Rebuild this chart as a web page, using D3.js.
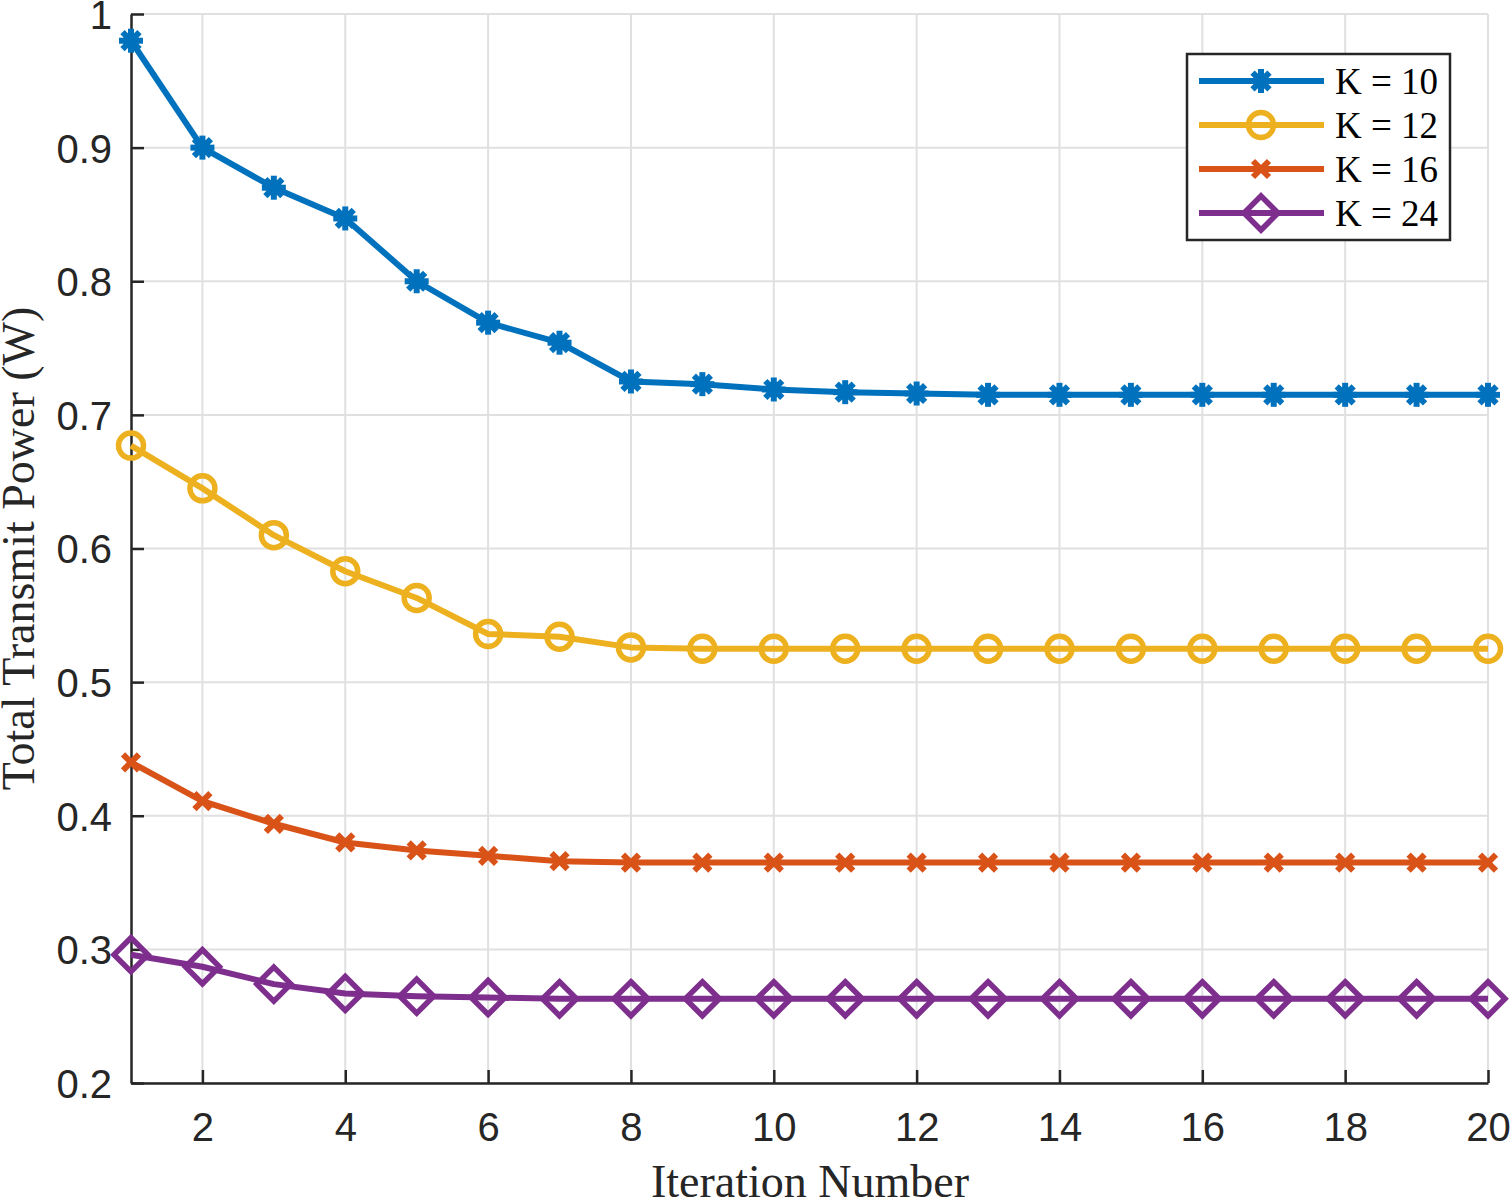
<!DOCTYPE html>
<html>
<head>
<meta charset="utf-8">
<script src="https://cdn.jsdelivr.net/npm/d3@7"></script>
<style>
  html, body { margin: 0; padding: 0; background: #fff; }
  svg { display: block; }
</style>
</head>
<body>
<div id="chart"></div>
<script>
// data
const iterations = d3.range(1, 21);
const k10 = [0.98, 0.9, 0.87, 0.847, 0.8, 0.769, 0.754, 0.725, 0.723, 0.719, 0.717, 0.716, 0.715, 0.715, 0.715, 0.715, 0.715, 0.715, 0.715, 0.715];
const k12 = [0.677, 0.645, 0.61, 0.583, 0.563, 0.536, 0.534, 0.526, 0.525, 0.525, 0.525, 0.525, 0.525, 0.525, 0.525, 0.525, 0.525, 0.525, 0.525, 0.525];
const k16 = [0.44, 0.411, 0.394, 0.38, 0.374, 0.37, 0.366, 0.365, 0.365, 0.365, 0.365, 0.365, 0.365, 0.365, 0.365, 0.365, 0.365, 0.365, 0.365, 0.365];
const k24 = [0.296, 0.287, 0.274, 0.267, 0.265, 0.264, 0.263, 0.263, 0.263, 0.263, 0.263, 0.263, 0.263, 0.263, 0.263, 0.263, 0.263, 0.263, 0.263, 0.263];
const seriesNames = ["K = 10", "K = 12", "K = 16", "K = 24"];
const xTicks = [2, 4, 6, 8, 10, 12, 14, 16, 18, 20];
const yTicks = [0.2, 0.3, 0.4, 0.5, 0.6, 0.7, 0.8, 0.9, 1];

const series = [
  { name: seriesNames[0], values: k10, color: "#0072BD", marker: "star" },
  { name: seriesNames[1], values: k12, color: "#EDB120", marker: "circle" },
  { name: seriesNames[2], values: k16, color: "#D95319", marker: "cross" },
  { name: seriesNames[3], values: k24, color: "#7E2F8E", marker: "diamond" },
];

const width = 1510, height = 1201;
const plotLeft = 131, plotRight = 1488, plotTop = 14, plotBottom = 1083;

const svg = d3.select("#chart").append("svg")
  .attr("width", width)
  .attr("height", height);

const x = d3.scaleLinear().domain([1, 20]).range([plotLeft, plotRight]);
const y = d3.scaleLinear().domain([0.2, 1]).range([plotBottom, plotTop]);

// grid
const grid = svg.append("g").attr("stroke", "#e0e0e0").attr("stroke-width", 2);
grid.selectAll(".gx").data(xTicks).enter().append("line")
  .attr("x1", d => x(d)).attr("x2", d => x(d))
  .attr("y1", plotTop).attr("y2", plotBottom);
grid.selectAll(".gy").data(yTicks).enter().append("line")
  .attr("x1", plotLeft).attr("x2", plotRight)
  .attr("y1", d => y(d)).attr("y2", d => y(d));

// axes
const xAxis = d3.axisBottom(x).tickValues(xTicks).tickSizeInner(-13).tickSizeOuter(0).tickPadding(30);
const yAxis = d3.axisLeft(y).tickValues(yTicks).tickSizeInner(-13).tickSizeOuter(0).tickPadding(19)
  .tickFormat(d => d === 1 ? "1" : d3.format(".1f")(d));

const gx = svg.append("g").attr("transform", `translate(0,${plotBottom})`).call(xAxis);
const gy = svg.append("g").attr("transform", `translate(${plotLeft},0)`).call(yAxis);

[gx, gy].forEach(g => {
  g.select(".domain").attr("stroke", "#262626").attr("stroke-width", 2.5);
  g.selectAll(".tick line").attr("stroke", "#262626").attr("stroke-width", 2.5);
  g.selectAll(".tick text")
    .attr("fill", "#262626")
    .style("font-family", "'Liberation Sans', Arial, sans-serif")
    .style("font-size", "40px");
});
gy.selectAll(".tick text").attr("dy", "0.36em");
gx.selectAll(".tick text").attr("dy", "0.71em");

// axis labels
svg.append("text")
  .attr("x", 810)
  .attr("y", 1197)
  .attr("text-anchor", "middle")
  .style("font-family", "'Liberation Serif', 'Times New Roman', serif")
  .style("font-size", "46px")
  .attr("fill", "#262626")
  .text("Iteration Number");

svg.append("text")
  .attr("transform", `translate(34,${(plotTop + plotBottom) / 2}) rotate(-90)`)
  .attr("text-anchor", "middle")
  .style("font-family", "'Liberation Serif', 'Times New Roman', serif")
  .style("font-size", "46px")
  .attr("fill", "#262626")
  .text("Total Transmit Power (W)");

// markers
function drawMarker(g, type, color) {
  if (type === "star") {
    const r = 12;
    [0, 45, 90, 135].forEach(a => {
      const rad = a * Math.PI / 180;
      g.append("line")
        .attr("x1", -r * Math.cos(rad)).attr("y1", -r * Math.sin(rad))
        .attr("x2", r * Math.cos(rad)).attr("y2", r * Math.sin(rad))
        .attr("stroke", color).attr("stroke-width", 6);
    });
    g.append("circle").attr("r", 8).attr("fill", color);
  } else if (type === "circle") {
    g.append("circle").attr("r", 12.5).attr("fill", "none")
      .attr("stroke", color).attr("stroke-width", 5.5);
  } else if (type === "cross") {
    const r = 8;
    g.append("path").attr("d", `M${-r},${-r}L${r},${r}M${-r},${r}L${r},${-r}`)
      .attr("stroke", color).attr("stroke-width", 6).attr("fill", "none");
  } else if (type === "diamond") {
    const r = 17;
    g.append("path").attr("d", `M0,${-r}L${r},0L0,${r}L${-r},0Z`)
      .attr("stroke", color).attr("stroke-width", 5.5).attr("fill", "none");
  }
}

const line = d3.line().x((d, i) => x(iterations[i])).y(d => y(d));

series.forEach(s => {
  const g = svg.append("g");
  g.append("path")
    .datum(s.values)
    .attr("d", line)
    .attr("fill", "none")
    .attr("stroke", s.color)
    .attr("stroke-width", 6)
    .attr("stroke-linejoin", "round");
  s.values.forEach((v, i) => {
    const m = g.append("g").attr("transform", `translate(${x(iterations[i])},${y(v)})`);
    drawMarker(m, s.marker, s.color);
  });
});

// legend
const legend = svg.append("g");
legend.append("rect")
  .attr("x", 1187).attr("y", 54)
  .attr("width", 263).attr("height", 186)
  .attr("fill", "#fff")
  .attr("stroke", "#262626")
  .attr("stroke-width", 2.5);

const rowY = d3.scalePoint().domain(seriesNames).range([81, 213]);
series.forEach(s => {
  const ry = rowY(s.name);
  legend.append("line")
    .attr("x1", 1199).attr("x2", 1324)
    .attr("y1", ry).attr("y2", ry)
    .attr("stroke", s.color).attr("stroke-width", 6);
  const m = legend.append("g").attr("transform", `translate(1261,${ry})`);
  drawMarker(m, s.marker, s.color);
  legend.append("text")
    .attr("x", 1335).attr("y", ry)
    .attr("dy", "0.35em")
    .style("font-family", "'Liberation Serif', 'Times New Roman', serif")
    .style("font-size", "37px")
    .attr("fill", "#000")
    .text(s.name);
});
</script>
</body>
</html>
